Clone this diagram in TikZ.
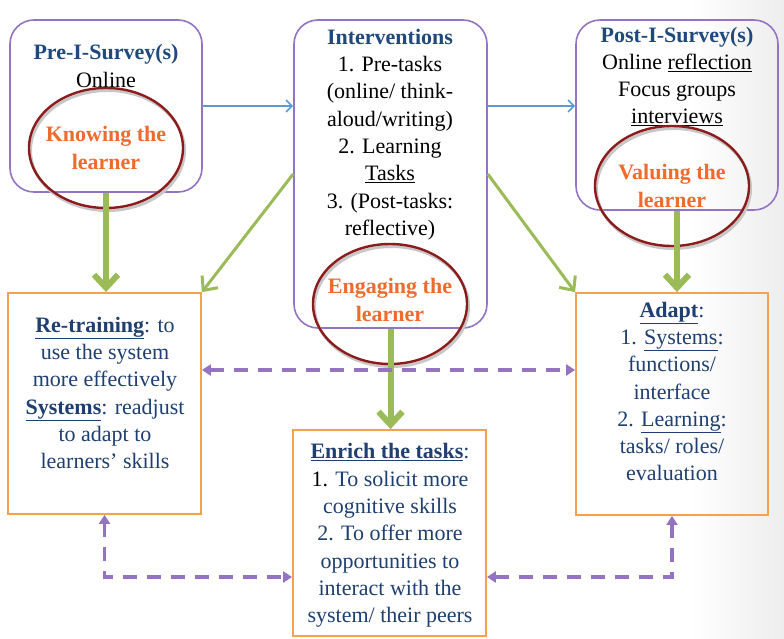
\documentclass[tikz,border=0pt]{standalone}
\usepackage{fontspec}
\setmainfont{Liberation Serif}
\usetikzlibrary{shapes.geometric,arrows.meta}
\definecolor{titleblue}{HTML}{1F497D}
\definecolor{bodyblue}{HTML}{1F3F70}
\definecolor{keyorange}{HTML}{EE6B2D}
\definecolor{ringred}{HTML}{8C1C1C}
\definecolor{boxpurple}{HTML}{9573C3}
\definecolor{boxorange}{HTML}{F8A14C}
\definecolor{arrowgreen}{HTML}{9BBB59}
\definecolor{arrowblue}{HTML}{5B9BD5}
\definecolor{dashpurple}{HTML}{9474C0}
\tikzset{
	survey/.style={draw=boxpurple, line width=1.6pt, rounded corners=24pt, inner sep=0pt},
	outcome/.style={draw=boxorange, line width=1.8pt, inner sep=0pt},
	ring/.style={ellipse, draw=ringred, line width=2.4pt, minimum width=154pt, minimum height=120pt, inner sep=0pt,
		preaction={draw=black!22, line width=3pt, transform canvas={shift={(1.5pt,-2.5pt)}}}},
	ringtext/.style={align=center, inner sep=0pt, text=keyorange, font=\fontsize{22}{27.3}\selectfont\bfseries},
	blurb/.style={align=center, inner sep=0pt},
	bluearrow/.style={draw=arrowblue, line width=1.6pt, -{Straight Barb[length=6pt, width=12pt]}},
	greenthin/.style={draw=arrowgreen, line width=3pt, -{Straight Barb[length=11pt, width=20pt]}},
	greenthick/.style={draw=arrowgreen, line width=6pt, -{Straight Barb[length=13pt, width=24pt]}},
	dasharrow/.style={draw=dashpurple, line width=3.5pt, dash pattern=on 14pt off 10pt,
		{Triangle[length=9pt, width=11pt]}-{Triangle[length=9pt, width=11pt]}}
}
\begin{document}
\begin{tikzpicture}[x=1pt, y=-1pt, font=\fontsize{22}{27.3}\selectfont]
		% canvas and faint slide shading
		\fill[white] (0,0) rectangle (784,639);
		\shade[left color=white, right color=black!7] (690,0) rectangle (784,639);
		\useasboundingbox (0,0) rectangle (784,639);
		\coordinate (mid) at (0,370);
		\coordinate (low) at (0,577);
		% boxes
		\node[survey, minimum width=192pt, minimum height=172pt] (pre) at (106,106) {};
		\node[survey, minimum width=193pt, minimum height=308pt] (inter) at (390.5,174) {};
		\node[survey, minimum width=202pt, minimum height=190pt] (post) at (677,115) {};
		\node[outcome, minimum width=193pt, minimum height=221pt] (retrain) at (104.5,403.5) {};
		\node[outcome, minimum width=193pt, minimum height=206pt] (enrich) at (389.5,533) {};
		\node[outcome, minimum width=192pt, minimum height=222pt] (adapt) at (672,404) {};
		% texts
		\node[blurb] (pretext) at (106,66) {\textcolor{titleblue}{\bfseries Pre-I-Survey(s)}\\Online};
		\node[blurb] (intertext) at (390,134.5) {\textcolor{titleblue}{\bfseries Interventions}\\1. Pre-tasks\\(online/ think-\\aloud/writing)\\2. Learning\\\underline{Tasks}\\3. (Post-tasks:\\reflective)};
		\node[blurb] (posttext) at (677,76.5) {\textcolor{titleblue}{\bfseries Post-I-Survey(s)}\\Online \underline{reflection}\\Focus groups\\\underline{interviews}};
		\node[blurb, text=bodyblue] (retraintext) at (105,393) {\underline{\bfseries Re-training}: to\\use the system\\more effectively\\\underline{\bfseries Systems}: readjust\\to adapt to\\learners’ skills};
		\node[blurb, text=bodyblue] (enrichtext) at (390,535.5) {\underline{\bfseries Enrich the tasks}:\\\textcolor{black}{1.} To solicit more\\cognitive skills\\2. To offer more\\opportunities to\\interact with the\\system/ their peers};
		\node[blurb, text=bodyblue] (adapttext) at (672,391.5) {\underline{\bfseries Adapt}:\\1. \underline{Systems}:\\functions/\\interface\\2. \underline{Learning}:\\tasks/ roles/\\evaluation};
		% rings
		\node[ring] (knowing) at (106,148) {};
		\node[ring] (engaging) at (390,304) {};
		\node[ring] (valuing) at (672,186) {};
		\node[ringtext] at (knowing) {Knowing the\\learner};
		\node[ringtext] at ([yshift=4pt]engaging) {Engaging the\\learner};
		\node[ringtext] at (valuing) {Valuing the\\learner};
		% connectors
		\draw[bluearrow] (pre.east) -- (pre.east -| inter.west);
		\draw[bluearrow] (inter.east |- pre.east) -- (post.west |- pre.east);
		\draw[greenthick] (pre.south) -- (retrain.north -| pre.south);
		\draw[greenthin] (inter.west) -- (retrain.north east);
		\draw[greenthin] (inter.east) -- (adapt.north west);
		\draw[greenthick] (inter.south) -- (enrich.north -| inter.south);
		\draw[greenthick] (post.south) -- (adapt.north -| post.south);
		\draw[dasharrow] (retrain.east |- mid) -- (adapt.west |- mid);
		\draw[dasharrow] (retrain.south) |- (enrich.west |- low);
		\draw[dasharrow] (adapt.south) |- (enrich.east |- low);
		\end{tikzpicture}
\end{document}
